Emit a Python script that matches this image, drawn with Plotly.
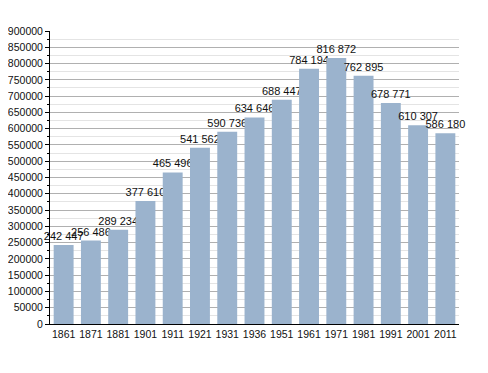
import plotly.graph_objects as go

years = ["1861", "1871", "1881", "1901", "1911", "1921", "1931", "1936",
         "1951", "1961", "1971", "1981", "1991", "2001", "2011"]
population = [242447, 256486, 289234, 377610, 465496, 541562, 590736, 634646,
              688447, 784194, 816872, 762895, 678771, 610307, 586180]

labels = ["{:,}".format(v).replace(",", " ") for v in population]

fig = go.Figure(go.Bar(
    x=years, y=population, text=labels, textposition="outside",
    constraintext="none", cliponaxis=False,
    textfont=dict(family="Liberation Sans, Arial", size=11, color="#111"),
    marker=dict(color="#9bb3cd", line=dict(width=0)),
))

# page body adds an 8px offset, compensated in the margins
fig.update_layout(
    width=488, height=373, margin=dict(l=42, r=37, t=23, b=57),
    plot_bgcolor="white", paper_bgcolor="white", showlegend=False,
    bargap=0.27,
    font=dict(family="Liberation Sans, Arial", size=11, color="#111"),
)
fig.update_yaxes(
    range=[0, 900000], dtick=50000, tickformat="d", automargin=False,
    showgrid=True, gridcolor="#b0b0b0", gridwidth=1,
    showline=True, linecolor="black", ticks="outside", ticklen=4, tickcolor="black",
    minor=dict(dtick=25000, showgrid=True, gridcolor="#e4e4e4", ticks="outside",
               ticklen=2, tickcolor="black"),
    zeroline=False, tickfont=dict(size=10.5),
)
fig.update_xaxes(
    showline=True, linecolor="black", ticks="", tickfont=dict(size=10.5),
    automargin=False,
)

fig.write_html("out.html")
